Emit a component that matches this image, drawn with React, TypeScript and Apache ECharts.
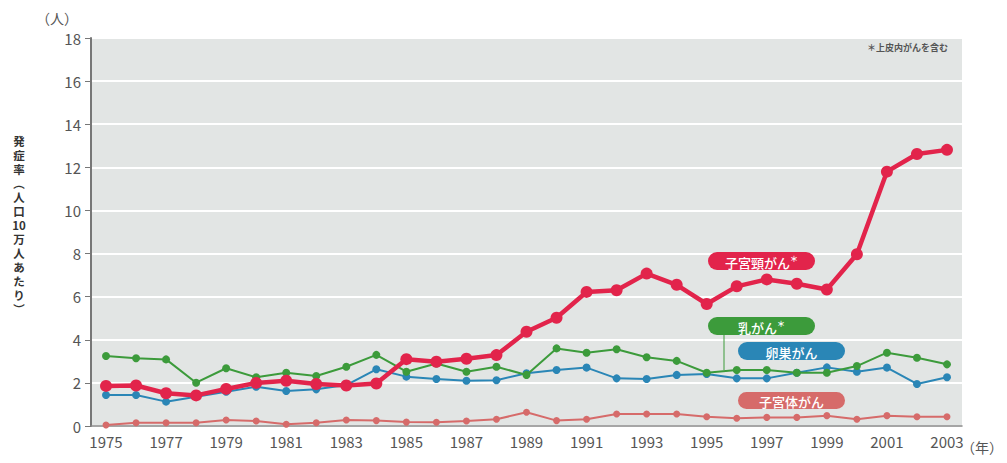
import React, { useEffect, useRef } from "react";
import * as echarts from "echarts";

const years = ["1975","1976","1977","1978","1979","1980","1981","1982","1983","1984","1985","1986","1987","1988","1989","1990","1991","1992","1993","1994","1995","1996","1997","1998","1999","2000","2001","2002","2003"];
const cervical = [1.86,1.88,1.52,1.42,1.72,2.0,2.1,1.95,1.88,1.97,3.1,2.98,3.12,3.29,4.37,5.02,6.22,6.3,7.07,6.55,5.66,6.48,6.8,6.6,6.33,7.97,11.8,12.62,12.81];
const breast = [3.25,3.14,3.09,2.01,2.68,2.26,2.47,2.32,2.75,3.3,2.52,2.9,2.52,2.75,2.37,3.6,3.4,3.56,3.19,3.02,2.47,2.6,2.6,2.47,2.47,2.78,3.4,3.17,2.86];
const ovary = [1.44,1.44,1.13,1.36,1.59,1.82,1.62,1.7,1.9,2.63,2.29,2.18,2.1,2.12,2.45,2.6,2.71,2.21,2.18,2.37,2.41,2.21,2.21,2.47,2.72,2.52,2.71,1.95,2.26];
const uterineBody = [0.05,0.15,0.15,0.15,0.28,0.23,0.08,0.15,0.28,0.25,0.18,0.17,0.23,0.31,0.64,0.25,0.31,0.56,0.56,0.56,0.43,0.36,0.4,0.4,0.48,0.31,0.48,0.43,0.43];
const yTitleChars = ["発","症","率","︵","人","口","10","万","人","あ","た","り","︶"];

const RED = "#e2244b";
const GREEN = "#3c9b3b";
const BLUE = "#2a86b6";
const PINK = "#d66b6a";
const FONT = "'Noto Sans CJK JP', 'DejaVu Sans', sans-serif";

function pill(x: number, y: number, w: number, h: number, color: string, rich: string) {
  return [
    { type: "rect", shape: { x, y, width: w, height: h, r: h / 2 }, style: { fill: color }, z: 10 },
    {
      type: "text",
      x: x + w / 2,
      y: y + h / 2 + 1,
      z: 11,
      style: {
        text: rich,
        align: "center",
        verticalAlign: "middle",
        fill: "#fff",
        font: `13px ${FONT}`,
        rich: {
          a: { fill: "#fff", fontSize: 13, fontWeight: 500, fontFamily: FONT },
          s: { fill: "#fff", fontSize: 8, fontWeight: "bold", fontFamily: FONT, verticalAlign: "top", padding: [0, 0, 8, 0] },
        },
      },
    },
  ];
}

export default function App() {
  const ref = useRef<HTMLDivElement>(null);
  useEffect(() => {
    if (!ref.current) return;
    const chart = echarts.init(ref.current, null, { renderer: "svg" });
    const lineSeries = (name: string, data: number[], color: string, width: number, size: number, z: number) => ({
      name,
      type: "line",
      data,
      z,
      symbol: "circle",
      symbolSize: size,
      lineStyle: { color, width },
      itemStyle: { color },
      emphasis: { disabled: true },
    });
    const titleEls = yTitleChars.map((c, i) => ({
      type: "text",
      x: 19,
      y: 141 + i * 14,
      style: { text: c, align: "center", verticalAlign: "middle", fill: "#333", font: `bold 11.5px ${FONT}` },
    }));
    chart.setOption({
      animation: false,
      grid: { left: 91, right: 45, top: 38, bottom: 37, show: true, backgroundColor: "#e2e5e4", borderWidth: 0 },
      xAxis: {
        type: "category",
        data: years,
        boundaryGap: true,
        axisLine: { lineStyle: { color: "#888", width: 1.5 } },
        axisTick: { alignWithLabel: true, interval: 0, length: 5, lineStyle: { color: "#666" } },
        axisLabel: { interval: 1, color: "#555", fontSize: 15, fontFamily: FONT, margin: 8 },
        splitLine: { show: false },
      },
      yAxis: {
        type: "value",
        min: 0,
        max: 18,
        interval: 2,
        axisLine: { show: true, lineStyle: { color: "#777", width: 2 } },
        axisTick: { show: true, length: 6, lineStyle: { color: "#777" } },
        axisLabel: { color: "#555", fontSize: 15, fontFamily: FONT, margin: 10 },
        splitLine: { lineStyle: { color: "#ffffff", width: 2 } },
      },
      series: [
        lineSeries("子宮体がん", uterineBody, PINK, 2, 7, 2),
        lineSeries("卵巣がん", ovary, BLUE, 2, 8, 3),
        lineSeries("乳がん", breast, GREEN, 2, 8, 4),
        lineSeries("子宮頸がん", cervical, RED, 4.5, 12, 5),
      ],
      graphic: [
        { type: "text", x: 78, y: 18, style: { text: "（人）", align: "right", verticalAlign: "middle", fill: "#555", font: `14px ${FONT}` } },
        { type: "text", x: 1003, y: 447, style: { text: "（年）", align: "right", verticalAlign: "middle", fill: "#555", font: `14px ${FONT}` } },
        { type: "text", x: 948, y: 47, style: { text: "＊上皮内がんを含む", align: "right", verticalAlign: "middle", fill: "#555", font: `bold 9px ${FONT}` } },
        ...titleEls,
        { type: "line", shape: { x1: 724, y1: 334, x2: 724, y2: 370 }, style: { stroke: GREEN, lineWidth: 1 }, z: 9 },
        ...pill(708, 252, 107, 18, RED, "{a|子宮頸がん}{s|＊}"),
        ...pill(708, 317, 107, 18, GREEN, "{a|乳がん}{s|＊}"),
        ...pill(738, 342, 107, 18, BLUE, "{a|卵巣がん}"),
        ...pill(738, 392, 107, 17, PINK, "{a|子宮体がん}"),
      ],
    });
    return () => chart.dispose();
  }, []);
  return <div ref={ref} style={{ width: 1007, height: 463, position: "absolute", left: 0, top: 0 }} />;
}
